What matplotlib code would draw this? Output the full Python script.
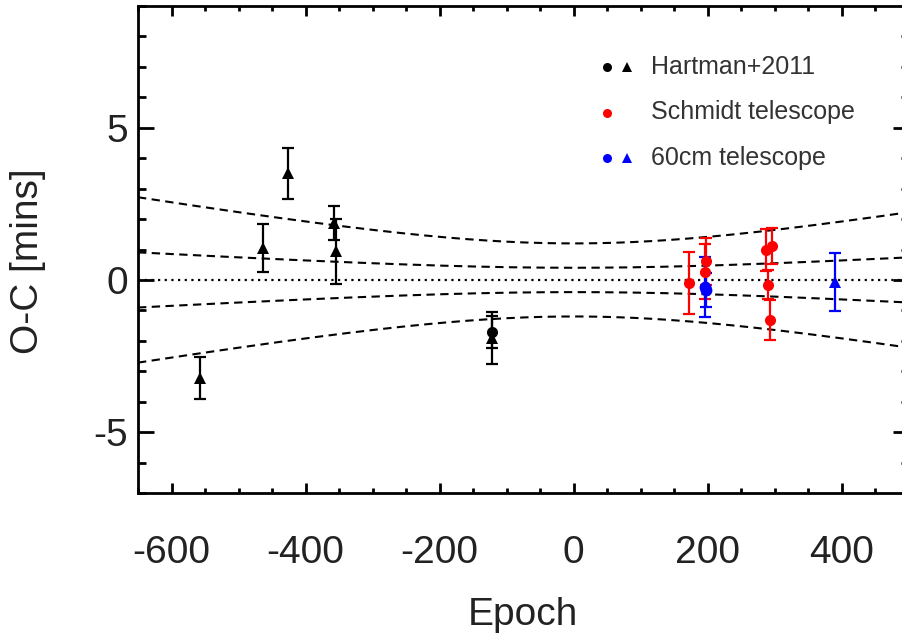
import numpy as np
import matplotlib
matplotlib.use("Agg")
import matplotlib.pyplot as plt
from matplotlib.ticker import MultipleLocator

plt.rcParams['font.family'] = ['Liberation Sans', 'DejaVu Sans']
plt.rcParams['axes.unicode_minus'] = False

# Hartman+2011 (black)
hart_tri_epoch = [-557, -463, -427, -357, -355, -122]
hart_tri_oc = [-3.22, 1.05, 3.50, 1.87, 0.94, -1.90]
hart_tri_err = [0.69, 0.79, 0.84, 0.56, 1.07, 0.85]
hart_cir_epoch = [-122]
hart_cir_oc = [-1.71]
hart_cir_err = [0.53]

# Schmidt telescope (red circles)
schmidt_epoch = [172, 197, 196, 287, 296, 290, 292]
schmidt_oc = [-0.11, 0.62, 0.27, 0.99, 1.10, -0.15, -1.31]
schmidt_err = [1.02, 0.77, 0.91, 0.69, 0.59, 0.49, 0.66]

# 60cm telescope (blue)
cm60_cir_epoch = [196, 197]
cm60_cir_oc = [-0.23, -0.33]
cm60_cir_err = [0.99, 0.56]
cm60_tri_epoch = [390]
cm60_tri_oc = [-0.06]
cm60_tri_err = [0.95]

# ephemeris uncertainty (1 sigma)
sig0 = 0.40      # mins at epoch 0
sig_p = 0.00125  # mins per epoch

fig = plt.figure(figsize=(9.03, 6.35), dpi=100)
ax = fig.add_axes([138/903, 1-493/635, (909-138)/903, (493-6)/635])

ax.set_xlim(-650, 500)
ax.set_ylim(-7, 9)

ep = np.linspace(-650, 500, 300)
sig = np.sqrt(sig0**2 + (sig_p*ep)**2)
for k in (1, 3, -1, -3):
    ax.plot(ep, k*sig, color='black', lw=1.5, dashes=(4, 2.6))
ax.axhline(0, color='black', lw=1.6, dashes=(1, 2))

eb = dict(fmt='none', elinewidth=1.6, capsize=4, capthick=1.6)
ax.errorbar(hart_tri_epoch, hart_tri_oc, yerr=hart_tri_err, ecolor='black', **eb)
ax.errorbar(hart_cir_epoch, hart_cir_oc, yerr=hart_cir_err, ecolor='black', **eb)
ax.errorbar(schmidt_epoch, schmidt_oc, yerr=schmidt_err, ecolor='red', **eb)
ax.errorbar(cm60_cir_epoch, cm60_cir_oc, yerr=cm60_cir_err, ecolor='blue', **eb)
ax.errorbar(cm60_tri_epoch, cm60_tri_oc, yerr=cm60_tri_err, ecolor='blue', **eb)

ax.plot(hart_tri_epoch, hart_tri_oc, '^', color='black', ms=9, mew=0)
ax.plot(hart_cir_epoch, hart_cir_oc, 'o', color='black', ms=8, mew=0)
ax.plot(schmidt_epoch, schmidt_oc, 'o', color='red', ms=8, mew=0)
ax.plot(cm60_cir_epoch, cm60_cir_oc, 'o', color='blue', ms=8.5, mew=0)
ax.plot(cm60_tri_epoch, cm60_tri_oc, '^', color='blue', ms=9, mew=0)

# legend drawn by hand
leg_rows = [(['black', 'black'], ['o', '^'], 'Hartman+2011'),
            (['red'], ['o'], 'Schmidt telescope'),
            (['blue', 'blue'], ['o', '^'], '60cm telescope')]
tr = fig.transFigure
for i, (cols, mks, lab) in enumerate(leg_rows):
    yy = 1 - (67 + 45.5*i)/635
    for j, (c, m) in enumerate(zip(cols, mks)):
        fig.lines.append(plt.Line2D([(607 + 20*j)/903], [yy], marker=m, color=c,
                                    ms=6.5, mew=0, ls='none', transform=tr))
    fig.text(651/903, yy, lab, fontsize=18, color='#333333', va='center', ha='left')

ax.xaxis.set_major_locator(MultipleLocator(200))
ax.xaxis.set_minor_locator(MultipleLocator(50))
ax.yaxis.set_major_locator(MultipleLocator(5))
ax.yaxis.set_minor_locator(MultipleLocator(1))
ax.tick_params(which='both', direction='in', top=True, right=True, width=2,
               labelsize=28, colors='black', labelcolor='#222222')
ax.tick_params(axis='x', which='major', length=7.2, pad=30)
ax.tick_params(axis='x', which='minor', length=3.6)
ax.tick_params(axis='y', which='major', length=11.5, pad=7)
ax.tick_params(axis='y', which='minor', length=5.8)
for s in ax.spines.values():
    s.set_linewidth(2)

fig.text(523/903, 1 - 625/635, 'Epoch', fontsize=28, color='#222222',
         ha='center', va='baseline')
fig.text(28/903, 1 - 261/635, 'O-C [mins]', fontsize=28, color='#222222',
         rotation=90, ha='center', va='center')

fig.savefig('out.png', dpi=100)
